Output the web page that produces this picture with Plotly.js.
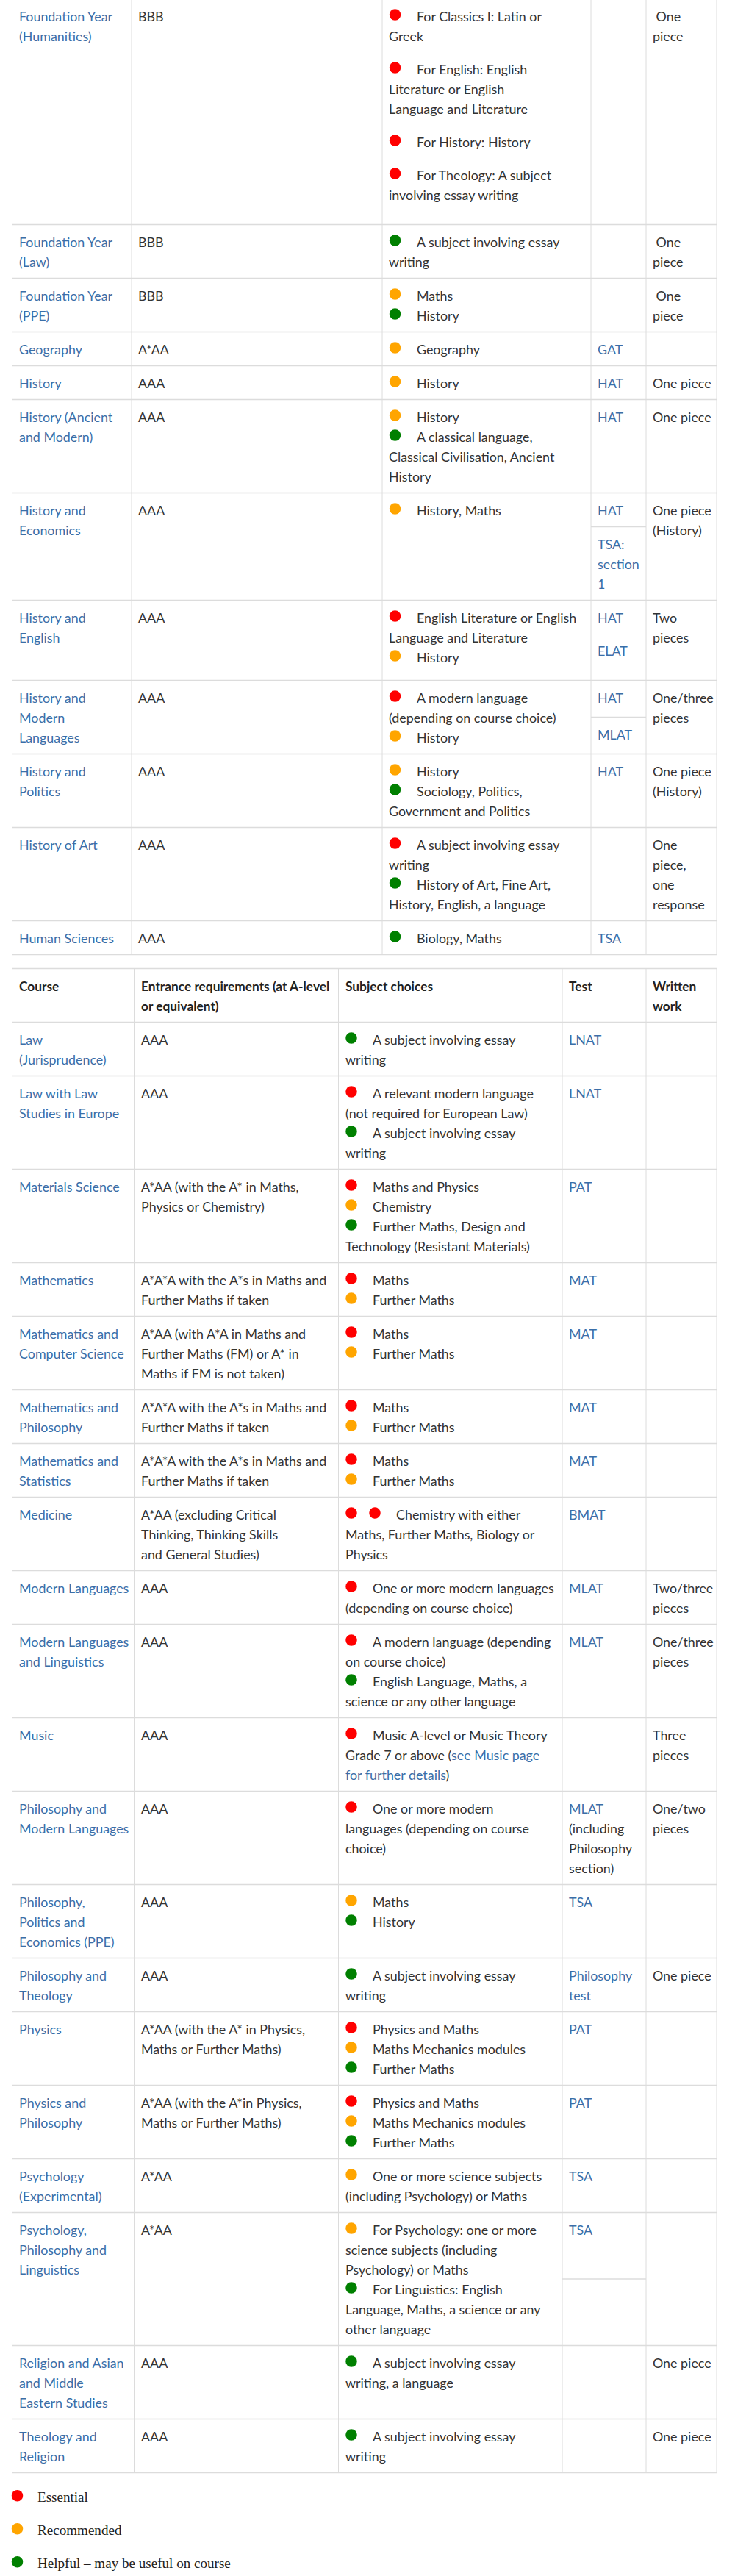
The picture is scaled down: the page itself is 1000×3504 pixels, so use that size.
<!DOCTYPE html>
<html>
<head>
<meta charset="utf-8">
<script src="https://cdn.plot.ly/plotly-3.0.1.min.js"></script>
<style>html,body{margin:0;padding:0;background:#fff;}</style>
</head>
<body>
<div id="chart" style="width:1000px;height:3504px"></div>
<script>
// ================= DATA =================
// "|" = line break inside a cell, "{...}" = link text,
// subject items are "level:text" (e = essential, r = recommended, h = helpful)
// tests: "a||b" = two stacked sub-cells, "a//b" = two paragraphs
const courses1 = ["Foundation Year|(Humanities)", "Foundation Year|(Law)", "Foundation Year|(PPE)", "Geography", "History",
  "History (Ancient|and Modern)", "History and|Economics", "History and|English", "History and|Modern|Languages",
  "History and|Politics", "History of Art", "Human Sciences"];
const entry1 = ["BBB", "BBB", "BBB", "A*AA", "AAA", "AAA", "AAA", "AAA", "AAA", "AAA", "AAA", "AAA"];
const subjects1 = [
  ["e:For Classics I: Latin or|Greek", "e:For English: English|Literature or English|Language and Literature", "e:For History: History", "e:For Theology: A subject|involving essay writing"],
  ["h:A subject involving essay|writing"],
  ["r:Maths", "h:History"],
  ["r:Geography"],
  ["r:History"],
  ["r:History", "h:A classical language,|Classical Civilisation, Ancient|History"],
  ["r:History, Maths"],
  ["e:English Literature or English|Language and Literature", "r:History"],
  ["e:A modern language|(depending on course choice)", "r:History"],
  ["r:History", "h:Sociology, Politics,|Government and Politics"],
  ["e:A subject involving essay|writing", "h:History of Art, Fine Art,|History, English, a language"],
  ["h:Biology, Maths"]
];
const subjectsAsParagraphs1 = [true, false, false, false, false, false, false, false, false, false, false, false];
const tests1 = ["", "", "", "{GAT}", "{HAT}", "{HAT}", "{HAT}||{TSA:}|{section}|{1}", "{HAT}//{ELAT}", "{HAT}||{MLAT}", "{HAT}", "", "{TSA}"];
const written1 = ["\u00a0One|piece", "\u00a0One|piece", "\u00a0One|piece", "", "One piece", "One piece", "One piece|(History)",
  "Two|pieces", "One/three|pieces", "One piece|(History)", "One|piece,|one|response", ""];

const header2 = ["Course", "Entrance requirements (at A-level|or equivalent)", "Subject choices", "Test", "Written|work"];
const courses2 = ["Law|(Jurisprudence)", "Law with Law|Studies in Europe", "Materials Science", "Mathematics",
  "Mathematics and|Computer Science", "Mathematics and|Philosophy", "Mathematics and|Statistics", "Medicine",
  "Modern Languages", "Modern Languages|and Linguistics", "Music", "Philosophy and|Modern Languages",
  "Philosophy,|Politics and|Economics (PPE)", "Philosophy and|Theology", "Physics", "Physics and|Philosophy",
  "Psychology|(Experimental)", "Psychology,|Philosophy and|Linguistics", "Religion and Asian|and Middle|Eastern Studies",
  "Theology and|Religion"];
const entry2 = ["AAA", "AAA", "A*AA (with the A* in Maths,|Physics or Chemistry)", "A*A*A with the A*s in Maths and|Further Maths if taken",
  "A*AA (with A*A in Maths and|Further Maths (FM) or A* in|Maths if FM is not taken)", "A*A*A with the A*s in Maths and|Further Maths if taken",
  "A*A*A with the A*s in Maths and|Further Maths if taken", "A*AA (excluding Critical|Thinking, Thinking Skills|and General Studies)",
  "AAA", "AAA", "AAA", "AAA", "AAA", "AAA", "A*AA (with the A* in Physics,|Maths or Further Maths)",
  "A*AA (with the A*in Physics,|Maths or Further Maths)", "A*AA", "A*AA", "AAA", "AAA"];
const subjects2 = [
  ["h:A subject involving essay|writing"],
  ["e:A relevant modern language|(not required for European Law)", "h:A subject involving essay|writing"],
  ["e:Maths and Physics", "r:Chemistry", "h:Further Maths, Design and|Technology (Resistant Materials)"],
  ["e:Maths", "r:Further Maths"],
  ["e:Maths", "r:Further Maths"],
  ["e:Maths", "r:Further Maths"],
  ["e:Maths", "r:Further Maths"],
  ["ee:Chemistry with either|Maths, Further Maths, Biology or|Physics"],
  ["e:One or more modern languages|(depending on course choice)"],
  ["e:A modern language (depending|on course choice)", "h:English Language, Maths, a|science or any other language"],
  ["e:Music A-level or Music Theory|Grade 7 or above ({see Music page}|{for further details})"],
  ["e:One or more modern|languages (depending on course|choice)"],
  ["r:Maths", "h:History"],
  ["h:A subject involving essay|writing"],
  ["e:Physics and Maths", "r:Maths Mechanics modules", "h:Further Maths"],
  ["e:Physics and Maths", "r:Maths Mechanics modules", "h:Further Maths"],
  ["r:One or more science subjects|(including Psychology) or Maths"],
  ["r:For Psychology: one or more|science subjects (including|Psychology) or Maths", "h:For Linguistics: English|Language, Maths, a science or any|other language"],
  ["h:A subject involving essay|writing, a language"],
  ["h:A subject involving essay|writing"]
];
const subjectsAsParagraphs2 = subjects2.map(() => false);
const tests2 = ["{LNAT}", "{LNAT}", "{PAT}", "{MAT}", "{MAT}", "{MAT}", "{MAT}", "{BMAT}", "{MLAT}", "{MLAT}", "",
  "{MLAT}|(including|Philosophy|section)", "{TSA}", "{Philosophy}|{test}", "{PAT}", "{PAT}", "{TSA}", "{TSA}||", "", ""];
const written2 = ["", "", "", "", "", "", "", "", "Two/three|pieces", "One/three|pieces", "Three|pieces", "One/two|pieces",
  "", "One piece", "", "", "", "", "One piece", "One piece"];

const legendLevels = ["e", "r", "h"];
const legendLabels = ["Essential", "Recommended", "Helpful \u2013 may be useful on course"];

// ================= STYLE / LAYOUT =================
const LEVEL_COLOR = { e: "#ff0000", r: "#ffa500", h: "#008000" };
const FONT = 'Lato, "Liberation Sans", sans-serif';
const SERIF = '"Liberation Serif", "DejaVu Serif", serif';
const LH = 27, PAD = 9.5, PGAP = 18, INSET = 9;
const DOT_DX = 17.5, DOT_STEP = 32, TEXT_AFTER_DOT = 46.5, DOT_DY = -1.5, TEXT_DY = 0.5;
const BLUE = "#3a6ea8", INK = "#333333", GRID = "#dcdcdc";
const cols1 = [16.5, 179, 520, 804, 879, 975];
const cols2 = [16.5, 182.5, 460.5, 765, 879, 975];
const TABLE1_TOP = -1.5, TABLE_GAP = 19;

// font sizes fitted so that sample strings take the widths seen in the reference
const ctx = document.createElement("canvas").getContext("2d");
function fitSize(family, weight, samples, lo, hi) {
  ctx.font = weight + " 100px " + family;
  let m = 0, t = 0;
  samples.forEach(s => { m += ctx.measureText(s[0]).width; t += s[1]; });
  const v = 100 * t / m;
  return Math.max(lo, Math.min(hi, v));
}
const FS = fitSize(FONT, "normal", [["Foundation Year", 124.5], ["English Literature or English", 221.6], ["A subject involving essay", 195.8], ["For Classics I: Latin or", 169]], 15, 19.5);
const FS_B = fitSize(FONT, "bold", [["Entrance requirements (at A-level", 257]], 14, 19.5);
const FS_L = fitSize(SERIF, "normal", [["Helpful \u2013 may be useful on course", 263]], 15, 21);

const annotations = [], shapes = [];
const dotX = [], dotY = [], dotC = [];

function markup(s) { return s.replace(/\{([^}]*)\}/g, '<span style="color:' + BLUE + '">$1</span>'); }
function addText(x, y, s, color, bold, family, size) {
  if (!s) return;
  let t = markup(s);
  if (bold) t = "<b>" + t + "</b>";
  annotations.push({ x: x, y: y + TEXT_DY, xref: "x", yref: "y", text: t, showarrow: false,
    xanchor: "left", yanchor: "middle", align: "left", borderpad: 0, borderwidth: 0,
    font: { family: family || FONT, size: size || (bold ? FS_B : FS), color: color } });
}
function splitLines(s) { return s === "" ? [] : s.split("|"); }
function cellH(n) { return 2 * PAD + LH * Math.max(n, 1); }
function parseItem(s) { const i = s.indexOf(":"); return { lv: s.slice(0, i), lines: s.slice(i + 1).split("|") }; }
function lineY(top, i) { return top + PAD + LH / 2 + LH * i; }
function hLine(x0, x1, y, w) { shapes.push({ type: "line", xref: "x", yref: "y", x0: x0, x1: x1, y0: y, y1: y, line: { color: GRID, width: w } }); }
function vLine(x, y0, y1) { shapes.push({ type: "line", xref: "x", yref: "y", x0: x, x1: x, y0: y0, y1: y1, line: { color: GRID, width: 1 } }); }

function drawTable(top, cols, header, courses, entry, subjects, paras, tests, written) {
  let y = top;
  const rowEdges = [top];
  if (header) {
    const cells = header.map(splitLines);
    const H = Math.max.apply(null, cells.map(c => cellH(c.length)));
    cells.forEach((c, ci) => c.forEach((t, li) => addText(cols[ci] + INSET, lineY(y, li), t, "#222222", true)));
    y += H; rowEdges.push(y);
  }
  courses.forEach((courseStr, r) => {
    const course = splitLines(courseStr), ent = splitLines(entry[r]), wr = splitLines(written[r]);
    const items = subjects[r].map(parseItem);
    const nSub = items.reduce((a, it) => a + it.lines.length, 0);
    const hSub = cellH(nSub) + (paras[r] ? PGAP * items.length : 0);
    let mode = "plain", tcells;
    if (tests[r].indexOf("||") >= 0) { mode = "split"; tcells = tests[r].split("||").map(splitLines); }
    else if (tests[r].indexOf("//") >= 0) { mode = "paras"; tcells = tests[r].split("//").map(splitLines); }
    else tcells = [splitLines(tests[r])];
    let hTest;
    if (mode === "split") hTest = tcells.reduce((a, c) => a + cellH(c.length), 0);
    else if (mode === "paras") hTest = cellH(tcells.reduce((a, c) => a + c.length, 0)) + PGAP * tcells.length;
    else hTest = cellH(tcells[0].length);
    const H = Math.max(cellH(course.length), cellH(ent.length), hSub, hTest, cellH(wr.length));

    course.forEach((t, i) => addText(cols[0] + INSET, lineY(y, i), t, BLUE));
    ent.forEach((t, i) => addText(cols[1] + INSET, lineY(y, i), t, INK));
    // subjects
    let li = 0, extra = 0;
    items.forEach(it => {
      const nd = it.lv.length;
      it.lines.forEach((t, k) => {
        const yc = lineY(y, li) + extra;
        if (k === 0) {
          for (let d = 0; d < nd; d++) {
            dotX.push(cols[2] + DOT_DX + DOT_STEP * d); dotY.push(yc + DOT_DY); dotC.push(LEVEL_COLOR[it.lv[d]]);
          }
          addText(cols[2] + TEXT_AFTER_DOT + DOT_STEP * (nd - 1), yc, t, INK);
        } else addText(cols[2] + INSET, yc, t, INK);
        li++;
      });
      if (paras[r]) extra += PGAP;
    });
    // tests
    if (mode === "split") {
      const add = (H - hTest) / tcells.length;
      let st = y;
      tcells.forEach((c, ci) => {
        c.forEach((t, i) => addText(cols[3] + INSET, lineY(st, i), t, INK));
        st += cellH(c.length) + add;
        if (ci < tcells.length - 1) hLine(cols[3], cols[4], st, 1.5);
      });
    } else {
      let l2 = 0, ex2 = 0;
      tcells.forEach(c => {
        c.forEach(t => { addText(cols[3] + INSET, lineY(y, l2) + ex2, t, INK); l2++; });
        if (mode === "paras") ex2 += PGAP;
      });
    }
    wr.forEach((t, i) => addText(cols[4] + INSET, lineY(y, i), t, INK));
    y += H; rowEdges.push(y);
  });
  rowEdges.forEach(e => hLine(cols[0], cols[cols.length - 1], e, 1.5));
  cols.forEach(c => vLine(c, top, y));
  return y;
}

const end1 = drawTable(TABLE1_TOP, cols1, null, courses1, entry1, subjects1, subjectsAsParagraphs1, tests1, written1);
const end2 = drawTable(end1 + TABLE_GAP, cols2, header2, courses2, entry2, subjects2, subjectsAsParagraphs2, tests2, written2);

// legend
const LEG_FIRST = 32.2, LEG_STEP = 45, LEG_DOT_X = 23.5, LEG_TEXT_X = 51;
legendLabels.forEach((lab, i) => {
  const yc = end2 + LEG_FIRST + LEG_STEP * i;
  dotX.push(LEG_DOT_X); dotY.push(yc - 1); dotC.push(LEVEL_COLOR[legendLevels[i]]);
  addText(LEG_TEXT_X, yc, lab, "#222222", false, SERIF, FS_L);
});

const trace = { type: "scatter", mode: "markers", x: dotX, y: dotY, hoverinfo: "skip", showlegend: false, cliponaxis: false,
  marker: { size: 15.5, color: dotC, line: { width: 0 } } };

Plotly.newPlot("chart", [trace], {
  width: 1000, height: 3504,
  margin: { l: 0, r: 0, t: 0, b: 0, pad: 0 },
  paper_bgcolor: "#ffffff", plot_bgcolor: "#ffffff",
  showlegend: false,
  xaxis: { range: [0, 1000], visible: false, fixedrange: true, showgrid: false, zeroline: false },
  yaxis: { range: [3504, 0], visible: false, fixedrange: true, showgrid: false, zeroline: false },
  annotations: annotations,
  shapes: shapes
}, { staticPlot: true, displayModeBar: false });
</script>
</body>
</html>
